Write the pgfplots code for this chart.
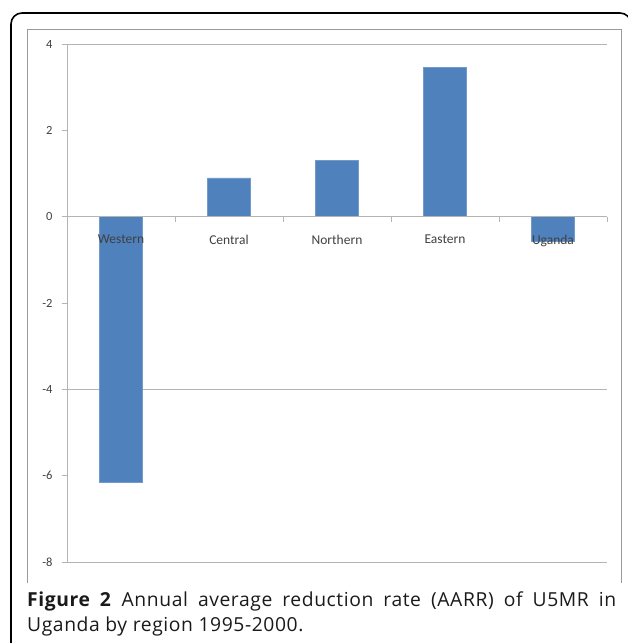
\documentclass[border=0pt]{standalone}
\usepackage{fontspec}
\setmainfont{Carlito}
\newfontfamily\capfont[LetterSpace=3]{Open Sans}
\usepackage{pgfplots}
\pgfplotsset{compat=1.18}
\definecolor{barblue}{HTML}{4F81BD}
\definecolor{gridgray}{HTML}{B4B4B4}
\definecolor{lblgray}{HTML}{404040}
\definecolor{boxgray}{HTML}{9A9A9A}
\definecolor{captext}{HTML}{1A1A1A}
\begin{document}
\begin{tikzpicture}[x=1pt,y=1pt]
\useasboundingbox (0,0) rectangle (628,-643);
\begin{scope}
\clip (0,0) rectangle (628,-643);
\draw[line width=1.6pt, rounded corners=11pt] (11,-700) -- (11,-13) -- (631,-13) -- (631,-700);
\draw[boxgray, line width=0.9pt] (27,-583) -- (27,-29) -- (621,-29) -- (621,-583);
\end{scope}
\begin{axis}[
  at={(67pt,-44pt)}, anchor=north west,
  scale only axis, width=540pt, height=518pt,
  xmin=-0.5, xmax=4.5, ymin=-8, ymax=4,
  axis x line=middle, axis y line=left,
  axis line style={-, draw=gridgray, line width=0.8pt},
  tick align=outside,
  major tick length=5pt, minor tick length=5pt,
  tick style={draw=gridgray, line width=0.8pt},
  xtick={0,1,2,3,4},
  xticklabels={Western,Central,Northern,Eastern,Uganda},
  major x tick style={draw=none},
  minor xtick={-0.5,0.5,1.5,2.5,3.5,4.5},
  xticklabel style={font=\fontsize{13.5}{15}\selectfont, text=lblgray, yshift=-10pt},
  ytick={-8,-6,-4,-2,0,2,4},
  yticklabels={-8,-6,-4,-2,0,2,4},
  yticklabel style={font=\fontsize{12.5}{15}\selectfont, text=lblgray, xshift=-6pt},
  axis on top,
  clip=false,
]
\draw[gridgray, line width=0.8pt] (axis cs:-0.5,4) -- (axis cs:4.5,4);
\draw[gridgray, line width=0.8pt] (axis cs:-0.5,-4) -- (axis cs:4.5,-4);
\draw[gridgray, line width=0.8pt] (axis cs:-0.5,-8) -- (axis cs:4.5,-8);
\addplot[ybar, bar width=43pt, fill=barblue, draw=barblue!80!white, line width=0.4pt, bar shift=0pt]
  coordinates {(0,-6.15) (1,0.90) (2,1.30) (3,3.46) (4,-0.56)};
\end{axis}
\node[anchor=north west, inner sep=0pt, text width=589pt, align=justify, text=captext, font=\capfont\fontsize{19.3}{25}\selectfont] at (27,-592)
  {\textbf{Figure 2} Annual average reduction rate (AARR) of U5MR in\linebreak Uganda by region 1995-2000.};
\end{tikzpicture}
\end{document}
